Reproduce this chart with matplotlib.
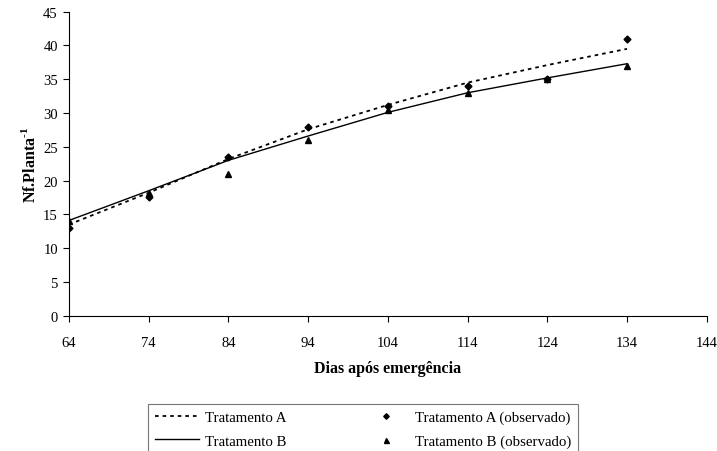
import matplotlib
matplotlib.use("Agg")
import matplotlib.pyplot as plt
import numpy as np

plt.rcParams['font.family'] = ['Liberation Serif', 'DejaVu Serif']
plt.rcParams['mathtext.fontset'] = 'custom'
plt.rcParams['mathtext.bf'] = 'Liberation Serif:bold'
plt.rcParams['mathtext.rm'] = 'Liberation Serif'

# dias apos emergencia
dias = [64, 74, 84, 94, 104, 114, 124, 134]

# curvas ajustadas
ajuste_a = [13.5, 18.2, 23.2, 27.6, 31.2, 34.5, 37.1, 39.5]
ajuste_b = [14.1, 18.5, 23.0, 26.6, 30.1, 33.0, 35.2, 37.3]

# valores observados
obs_a = [13.0, 17.5, 23.5, 28.0, 31.0, 34.0, 35.0, 41.0]
obs_b = [14.0, 18.2, 21.0, 26.0, 30.5, 33.0, 35.0, 37.0]

xticks = np.arange(64, 145, 10)
yticks = np.arange(0, 46, 5)

fig = plt.figure(figsize=(7.17, 4.52), dpi=100)
ax = fig.add_axes([0.0962, 0.2993, 0.8895, 0.6726])

la, = ax.plot(dias, ajuste_a, color='black', lw=1.3, linestyle=(0, (2, 2.2)),
              label='Tratamento A')
lb, = ax.plot(dias, ajuste_b, color='black', lw=1.0, label='Tratamento B')
pa, = ax.plot(dias, obs_a, 'D', color='black', ms=3.5, linestyle='none',
              label='Tratamento A (observado)')
pb, = ax.plot(dias, obs_b, '^', color='black', ms=4.5, linestyle='none',
              label='Tratamento B (observado)')

ax.set_xlim(64, 144)
ax.set_ylim(0, 45)
ax.set_xticks(xticks)
ax.set_yticks(yticks)
ax.spines['top'].set_visible(False)
ax.spines['right'].set_visible(False)
ax.tick_params(direction='out', length=4, labelsize=10.5, width=0.8)
ax.tick_params(axis='x', pad=10.5)
ax.tick_params(axis='y', pad=4)

ax.set_xlabel('Dias após emergência', fontsize=11.5, fontweight='bold', labelpad=8)
ax.set_ylabel('Nf.Planta$^{\\mathbf{\\text{-}1}}$', fontsize=11.5, fontweight='bold',
              labelpad=3)

leg = fig.legend(handles=[la, lb, pa, pb], loc='upper center',
                 bbox_to_anchor=(0.506, 0.121), ncol=2, fontsize=10.7,
                 frameon=True, fancybox=False, edgecolor='#555555',
                 handlelength=3.0, columnspacing=5.2, labelspacing=0.7,
                 borderpad=0.45, handletextpad=0.4, markerscale=0.8)
leg.get_frame().set_linewidth(0.8)

fig.savefig('out.png', dpi=100)
